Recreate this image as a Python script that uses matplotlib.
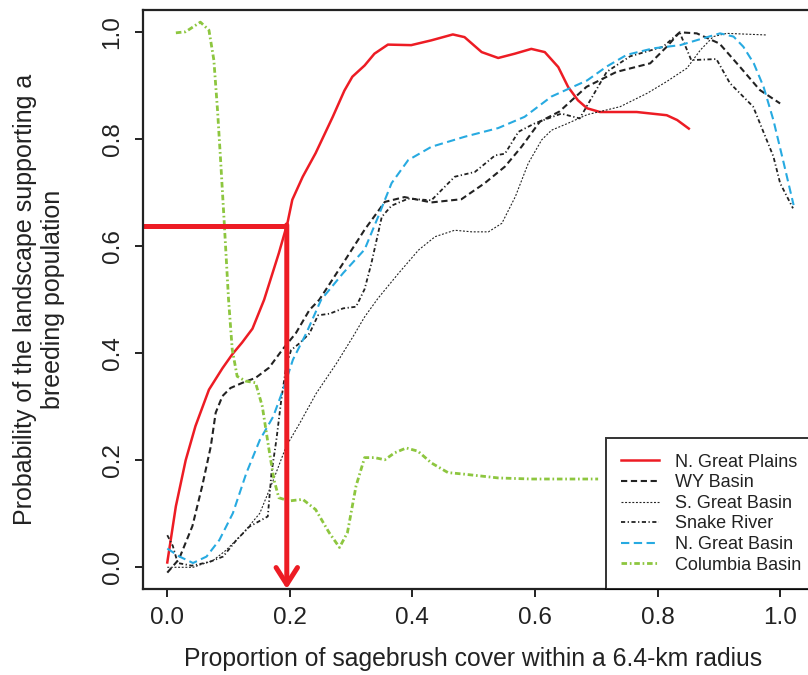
import numpy as np
import matplotlib
matplotlib.use("Agg")
import matplotlib.pyplot as plt

plt.rcParams['font.family'] = ['Liberation Sans', 'DejaVu Sans']
plt.rcParams['lines.scale_dashes'] = False

# N. Great Plains
ngp_x = [0.0, 0.014, 0.030, 0.046, 0.068, 0.090, 0.106, 0.122, 0.139, 0.158, 0.182, 0.196, 0.204,
         0.221, 0.242, 0.270, 0.289, 0.302, 0.322, 0.338, 0.360, 0.398, 0.431, 0.466, 0.485,
         0.513, 0.540, 0.567, 0.594, 0.616, 0.638, 0.654, 0.670, 0.685, 0.706, 0.766, 0.815,
         0.832, 0.851]
ngp_y = [0.009, 0.114, 0.200, 0.264, 0.332, 0.372, 0.398, 0.420, 0.446, 0.500, 0.587, 0.643, 0.687,
         0.730, 0.774, 0.842, 0.891, 0.917, 0.938, 0.960, 0.977, 0.976, 0.985, 0.996, 0.991,
         0.963, 0.952, 0.960, 0.969, 0.963, 0.935, 0.898, 0.873, 0.858, 0.851, 0.851, 0.845,
         0.836, 0.820]

# WY Basin
wy_x = [0.0, 0.019, 0.041, 0.057, 0.071, 0.079, 0.090, 0.103, 0.123, 0.144, 0.166, 0.188,
        0.210, 0.232, 0.248, 0.285, 0.322, 0.355, 0.387, 0.431, 0.480, 0.518, 0.551, 0.578,
        0.608, 0.640, 0.684, 0.733, 0.788, 0.815, 0.836, 0.864, 0.901, 0.934, 0.967, 1.000]
wy_y = [-0.010, 0.015, 0.077, 0.152, 0.226, 0.289, 0.320, 0.335, 0.345, 0.354, 0.373, 0.407,
        0.438, 0.481, 0.500, 0.565, 0.631, 0.683, 0.692, 0.682, 0.688, 0.718, 0.749, 0.786,
        0.833, 0.852, 0.898, 0.926, 0.942, 0.973, 1.000, 0.998, 0.979, 0.936, 0.892, 0.867]

# S. Great Basin
sgb_x = [0.0, 0.042, 0.075, 0.096, 0.124, 0.151, 0.173, 0.194, 0.216, 0.243, 0.276, 0.303,
         0.322, 0.344, 0.377, 0.410, 0.437, 0.469, 0.497, 0.524, 0.546, 0.568, 0.589, 0.611,
         0.627, 0.654, 0.685, 0.739, 0.783, 0.815, 0.848, 0.870, 0.891, 0.913, 0.978]
sgb_y = [0.000, 0.000, 0.013, 0.032, 0.064, 0.101, 0.163, 0.226, 0.269, 0.325, 0.381, 0.431,
         0.468, 0.503, 0.549, 0.593, 0.618, 0.630, 0.627, 0.627, 0.643, 0.693, 0.755, 0.799,
         0.817, 0.830, 0.846, 0.861, 0.886, 0.908, 0.933, 0.967, 0.992, 0.998, 0.995]

# Snake River
snk_x = [0.0, 0.009, 0.017, 0.040, 0.069, 0.091, 0.113, 0.134, 0.164, 0.170, 0.178, 0.186,
         0.194, 0.202, 0.216, 0.232, 0.246, 0.265, 0.287, 0.308, 0.322, 0.333, 0.350, 0.366,
         0.393, 0.431, 0.469, 0.502, 0.535, 0.551, 0.573, 0.600, 0.643, 0.673, 0.717, 0.755,
         0.809, 0.836, 0.855, 0.896, 0.918, 0.956, 0.989, 1.000, 1.021]
snk_y = [0.060, 0.040, 0.008, 0.003, 0.010, 0.020, 0.051, 0.076, 0.095, 0.176, 0.238, 0.313,
         0.375, 0.406, 0.419, 0.437, 0.471, 0.474, 0.484, 0.487, 0.520, 0.568, 0.655, 0.676,
         0.689, 0.686, 0.730, 0.739, 0.770, 0.773, 0.814, 0.830, 0.848, 0.839, 0.926, 0.955,
         0.973, 1.000, 0.948, 0.950, 0.905, 0.861, 0.768, 0.718, 0.671]

# N. Great Basin
ngb_x = [0.0, 0.020, 0.042, 0.064, 0.085, 0.107, 0.129, 0.151, 0.173, 0.189, 0.205, 0.227,
         0.251, 0.287, 0.322, 0.344, 0.366, 0.393, 0.431, 0.486, 0.540, 0.583, 0.627, 0.685,
         0.717, 0.750, 0.793, 0.837, 0.875, 0.902, 0.924, 0.940, 0.957, 0.973, 0.989, 1.006,
         1.022]
ngb_y = [0.035, 0.020, 0.008, 0.020, 0.051, 0.101, 0.176, 0.238, 0.282, 0.332, 0.388, 0.438,
         0.500, 0.550, 0.594, 0.655, 0.718, 0.761, 0.786, 0.805, 0.821, 0.842, 0.880, 0.910,
         0.936, 0.958, 0.970, 0.976, 0.989, 0.998, 0.992, 0.973, 0.942, 0.898, 0.836, 0.755,
         0.677]

# Columbia Basin
col_x = [0.014, 0.030, 0.054, 0.068, 0.076, 0.082, 0.087, 0.093, 0.100, 0.106, 0.114, 0.128,
         0.144, 0.155, 0.166, 0.174, 0.182, 0.199, 0.221, 0.242, 0.264, 0.281, 0.294, 0.308,
         0.322, 0.338, 0.355, 0.371, 0.390, 0.409, 0.431, 0.458, 0.485, 0.540, 0.594, 0.649,
         0.703]
col_y = [0.999, 1.001, 1.019, 1.004, 0.948, 0.854, 0.761, 0.643, 0.500, 0.407, 0.357, 0.348,
         0.345, 0.301, 0.220, 0.164, 0.130, 0.124, 0.127, 0.108, 0.065, 0.037, 0.065, 0.152,
         0.205, 0.205, 0.201, 0.214, 0.223, 0.217, 0.195, 0.177, 0.174, 0.167, 0.165, 0.165,
         0.165]

# threshold marked with red lines
x_thr = 0.195
y_thr = 0.638

red = '#ED1C24'
blue = '#27AAE1'
green = '#8DC63F'
dark = '#222222'

fig = plt.figure(figsize=(8.08, 6.75), dpi=100)
ax = fig.add_axes([0.177, 0.1274, 0.834, 0.8578])
ax.set_xlim(-0.0396, 1.06)
ax.set_ylim(-0.0406, 1.0417)

ax.plot(ngp_x, ngp_y, color=red, lw=1.8, label='N. Great Plains')
ax.plot(wy_x, wy_y, color=dark, lw=1.5, dashes=(4.5, 2.6), label='WY Basin')
ax.plot(sgb_x, sgb_y, color=dark, lw=0.8, dashes=(1.4, 1.2), label='S. Great Basin')
ax.plot(snk_x, snk_y, color=dark, lw=1.3, dashes=(3.0, 1.8, 0.9, 1.8), label='Snake River')
ax.plot(ngb_x, ngb_y, color=blue, lw=1.5, dashes=(6.0, 3.2), label='N. Great Basin')
ax.plot(col_x, col_y, color=green, lw=2.0, dashes=(4.0, 2.0, 1.2, 2.0), label='Columbia Basin')

x0, x1 = ax.get_xlim()
y0, y1 = ax.get_ylim()
ax.plot([x0, x_thr], [y_thr, y_thr], color=red, lw=3.6, solid_capstyle='butt')
ax.annotate('', xy=(x_thr, y0), xytext=(x_thr, y_thr + 0.002),
            arrowprops=dict(arrowstyle='->,head_length=0.55,head_width=0.35',
                            color=red, lw=3.6, mutation_scale=22,
                            shrinkA=0, shrinkB=0))

ax.set_xticks([0.0, 0.2, 0.4, 0.6, 0.8, 1.0])
ax.set_yticks([0.0, 0.2, 0.4, 0.6, 0.8, 1.0])
ax.set_xticklabels(['0.0', '0.2', '0.4', '0.6', '0.8', '1.0'])
ax.set_yticklabels(['0.0', '0.2', '0.4', '0.6', '0.8', '1.0'], rotation=90, va='center')
ax.tick_params(axis='both', direction='out', length=6, width=1.4, color=dark,
               labelsize=17.5, labelcolor=dark)
ax.tick_params(axis='x', pad=7)
ax.tick_params(axis='y', pad=8)
for s in ax.spines.values():
    s.set_linewidth(1.6)
    s.set_color(dark)

ax.set_xlabel('Proportion of sagebrush cover within a 6.4-km radius',
              fontsize=17.8, color=dark)
ax.xaxis.set_label_coords(0.49, -0.101)
ax.set_ylabel('Probability of the landscape supporting a\nbreeding population',
              fontsize=18, color=dark, linespacing=1.2)
ax.yaxis.set_label_coords(-0.116, 0.5)

leg = ax.legend(loc='lower right', borderaxespad=0, fontsize=13, frameon=True,
                fancybox=False, edgecolor='black', handlelength=2.1,
                handletextpad=0.9, labelspacing=0.2, borderpad=0.85)
leg.get_frame().set_linewidth(1.4)
for t in leg.get_texts():
    t.set_color(dark)

fig.savefig('out.png', dpi=100)
